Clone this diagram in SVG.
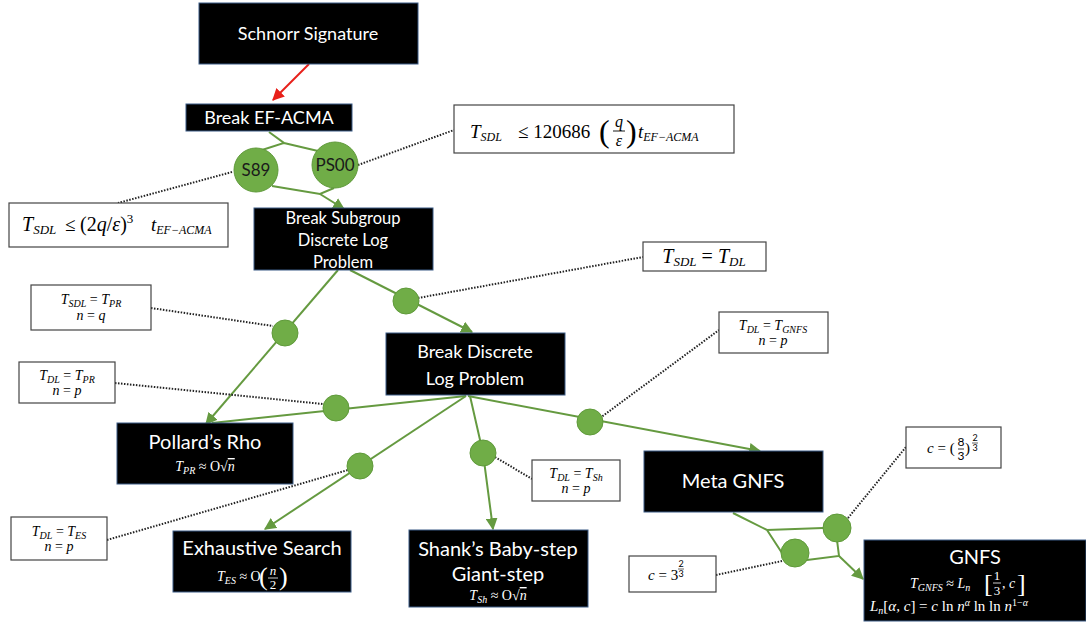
<svg xmlns="http://www.w3.org/2000/svg" width="1086" height="624" viewBox="0 0 1086 624">
<defs>
<style>
.bx{fill:#000;stroke:#3b5b85;stroke-width:1}
.wb{fill:#fff;stroke:#444;stroke-width:1.2}
.t{font-family:Lato,"Liberation Sans",sans-serif;fill:#fff;text-anchor:middle}
.m{font-family:"Liberation Serif",serif;font-style:italic;fill:#000}
.mw{font-family:"Liberation Serif",serif;font-style:italic;fill:#fff}
.u{font-style:normal}
.n{font-style:normal;font-family:Lato,"Liberation Sans",sans-serif}
.g{stroke:#659a40;stroke-width:2;fill:none}
.d{stroke:#222;stroke-width:2;stroke-dasharray:1.5 1.5;fill:none}
.c{fill:#70ad47;stroke:#5f9a3a;stroke-width:1}
.ct{font-family:Lato,"Liberation Sans",sans-serif;font-size:17px;fill:#1a1a1a;text-anchor:middle}
</style>
<marker id="ag" viewBox="0 0 10 10" refX="9" refY="5" markerWidth="6" markerHeight="6" orient="auto" markerUnits="strokeWidth"><path d="M0,0 L10,5 L0,10 z" fill="#659a40"/></marker>
<marker id="ar" viewBox="0 0 10 10" refX="9" refY="5" markerWidth="6" markerHeight="6" orient="auto" markerUnits="strokeWidth"><path d="M0,0 L10,5 L0,10 z" fill="#e8201a"/></marker>
</defs>

<g id="connectors">
<line x1="309" y1="64" x2="273" y2="100" stroke="#e8201a" stroke-width="2" marker-end="url(#ar)"/>
<path class="g" d="M269,132 L284,143 L262,150 M284,143 L318,151"/>
<path class="g" d="M272,186 L320,194 L334,188"/>
<path class="g" d="M320,194 L344,209" marker-end="url(#ag)"/>
<path class="g" d="M338,270 L206,424" marker-end="url(#ag)"/>
<path class="g" d="M350,270 L472,332" marker-end="url(#ag)"/>
<path class="g" d="M466,396 L212,423"/>
<path class="g" d="M466,396 L265,529" marker-end="url(#ag)"/>
<path class="g" d="M470,396 L483,453 L493,529" marker-end="url(#ag)"/>
<path class="g" d="M468,396 L760,451" marker-end="url(#ag)"/>
<path class="g" d="M733,513 L767,530 L823,528 M767,530 L782,553 M807,560 L839,556 L837,540"/>
<path class="g" d="M839,556 L863,579" marker-end="url(#ag)"/>
<path class="d" d="M232,172 L118,203"/>
<path class="d" d="M358,165 L454,130"/>
<path class="d" d="M418,298 L643,257"/>
<path class="d" d="M151,308 L273,326"/>
<path class="d" d="M115,383 L323,404"/>
<path class="d" d="M600,418 L719,330"/>
<path class="d" d="M495,457 L532,479"/>
<path class="d" d="M107,540 L348,470"/>
<path class="d" d="M848,518 L906,447"/>
<path class="d" d="M716,575 L782,561"/>
</g>

<g id="circles">
<circle class="c" cx="256" cy="170" r="22"/>
<text class="ct" x="256" y="176">S89</text>
<circle class="c" cx="335" cy="165" r="23"/>
<text class="ct" x="335" y="171">PS00</text>
<circle class="c" cx="285" cy="333" r="13"/>
<circle class="c" cx="406" cy="301" r="13"/>
<circle class="c" cx="336" cy="408" r="13"/>
<circle class="c" cx="360" cy="466" r="13"/>
<circle class="c" cx="483" cy="453" r="13"/>
<circle class="c" cx="590" cy="422" r="13"/>
<circle class="c" cx="837" cy="528" r="14"/>
<circle class="c" cx="795" cy="553" r="14"/>
</g>

<g id="schnorr">
<rect class="bx" x="199" y="3" width="219" height="61"/>
<text class="t" x="308" y="40" font-size="18">Schnorr Signature</text>
</g>
<g id="ef-acma">
<rect class="bx" x="186" y="104" width="166" height="27"/>
<text class="t" x="269" y="124" font-size="18">Break EF-ACMA</text>
</g>
<g id="subgroup">
<rect class="bx" x="254" y="208" width="179" height="62"/>
<text class="t" font-size="16.5"><tspan x="343" y="224">Break Subgroup</tspan><tspan x="343" y="246">Discrete Log</tspan><tspan x="343" y="268">Problem</tspan></text>
</g>
<g id="dl">
<rect class="bx" x="386" y="333" width="179" height="62"/>
<text class="t" font-size="18"><tspan x="475" y="358">Break Discrete</tspan><tspan x="475" y="385">Log Problem</tspan></text>
</g>
<g id="pollard">
<rect class="bx" x="117" y="423" width="176" height="61"/>
<text class="t" x="205" y="449" font-size="20">Pollard’s Rho</text>
<text class="mw" x="205" y="471" font-size="14" text-anchor="middle">T<tspan font-size="10" dy="3">PR</tspan><tspan class="u" dy="-3"> ≈ O√</tspan><tspan text-decoration="overline">n</tspan></text>
</g>
<g id="exhaustive">
<rect class="bx" x="173" y="531" width="178" height="61"/>
<text class="t" x="262" y="555" font-size="20">Exhaustive Search</text>
<text class="mw" x="217" y="581" font-size="14">T<tspan font-size="10" dy="3">ES</tspan><tspan class="u" dy="-3"> ≈ O</tspan></text>
<text class="mw" x="259" y="585" font-size="26" style="font-style:normal">(</text>
<text class="mw" x="273" y="575" font-size="13" text-anchor="middle">n</text>
<line x1="268" y1="578" x2="278" y2="578" stroke="#fff" stroke-width="0.8"/>
<text class="mw" x="273" y="589" font-size="13" text-anchor="middle" style="font-style:normal">2</text>
<text class="mw" x="279" y="585" font-size="26" style="font-style:normal">)</text>
</g>
<g id="shanks">
<rect class="bx" x="409" y="530" width="179" height="77"/>
<text class="t" font-size="20"><tspan x="498" y="556">Shank’s Baby-step</tspan><tspan x="498" y="581">Giant-step</tspan></text>
<text class="mw" x="498" y="600" font-size="14" text-anchor="middle">T<tspan font-size="10" dy="3">Sh</tspan><tspan class="u" dy="-3"> ≈ O√</tspan><tspan text-decoration="overline">n</tspan></text>
</g>
<g id="metagnfs">
<rect class="bx" x="644" y="451" width="179" height="61"/>
<text class="t" x="733" y="488" font-size="20">Meta GNFS</text>
</g>
<g id="gnfs">
<rect class="bx" x="864" y="540" width="222" height="81"/>
<text class="t" x="975" y="564" font-size="20">GNFS</text>
<text class="mw" x="910" y="588" font-size="14">T<tspan font-size="10" dy="3">GNFS</tspan><tspan class="u" dy="-3"> ≈ </tspan>L<tspan font-size="10" dy="3">n</tspan></text>
<text class="mw" x="984" y="592" font-size="26" style="font-style:normal">[</text>
<text class="mw" x="997" y="580" font-size="13" text-anchor="middle" style="font-style:normal">1</text>
<line x1="993" y1="583" x2="1001" y2="583" stroke="#fff" stroke-width="0.8"/>
<text class="mw" x="997" y="595" font-size="13" text-anchor="middle" style="font-style:normal">3</text>
<text class="mw" x="1002" y="588" font-size="14"><tspan class="u">, </tspan>c</text>
<text class="mw" x="1017" y="592" font-size="26" style="font-style:normal">]</text>
<text class="mw" x="870" y="611" font-size="15">L<tspan font-size="10" dy="3">n</tspan><tspan class="u" dy="-3">[</tspan>α, c<tspan class="u">] = </tspan>c <tspan class="u">ln </tspan>n<tspan font-size="10" dy="-5">α</tspan><tspan class="u" dy="5"> ln ln </tspan>n<tspan class="u" font-size="10" dy="-5">1−</tspan><tspan font-size="10">α</tspan></text>
</g>

<g id="eq-s89">
<rect class="wb" x="9" y="203" width="219" height="44"/>
<text class="m" x="22" y="231" font-size="20">T<tspan font-size="13" dy="3">SDL</tspan></text>
<text class="m u" x="65" y="231" font-size="19" style="font-style:normal">≤</text>
<text class="m" x="80" y="231" font-size="20"><tspan class="u">(2</tspan>q<tspan class="u">/</tspan>ε<tspan class="u">)</tspan><tspan class="u" font-size="13" dy="-8">3</tspan></text>
<text class="m" x="151" y="231" font-size="19">t<tspan font-size="12" dy="3">EF−ACMA</tspan></text>
</g>
<g id="eq-ps00">
<rect class="wb" x="454" y="105" width="280" height="48"/>
<text class="m" x="470" y="138" font-size="19">T<tspan font-size="12" dy="3">SDL</tspan></text>
<text class="m" x="518" y="138" font-size="19" style="font-style:normal">≤ 120686</text>
<text class="m" x="599" y="142" font-size="32" style="font-style:normal">(</text>
<text class="m" x="619" y="127" font-size="16" text-anchor="middle">q</text>
<line x1="613" y1="131" x2="625" y2="131" stroke="#000" stroke-width="0.9"/>
<text class="m" x="619" y="146" font-size="16" text-anchor="middle">ε</text>
<text class="m" x="626" y="142" font-size="32" style="font-style:normal">)</text>
<text class="m" x="638" y="138" font-size="19">t<tspan font-size="12" dy="3">EF−ACMA</tspan></text>
</g>
<g id="eq-sdl-dl">
<rect class="wb" x="643" y="242" width="123" height="29"/>
<text class="m" x="704" y="263" font-size="20" text-anchor="middle">T<tspan font-size="13" dy="3">SDL</tspan><tspan class="u" dy="-3"> = </tspan>T<tspan font-size="13" dy="3">DL</tspan></text>
</g>
<g id="eq-sdl-pr">
<rect class="wb" x="31" y="285" width="120" height="45"/>
<text class="m" x="91" y="304" font-size="14" text-anchor="middle">T<tspan font-size="10" dy="3">SDL</tspan><tspan class="u" dy="-3"> = </tspan>T<tspan font-size="10" dy="3">PR</tspan></text>
<text class="m" x="91" y="320" font-size="14" text-anchor="middle">n<tspan class="u"> = </tspan>q</text>
</g>
<g id="eq-dl-pr">
<rect class="wb" x="19" y="362" width="96" height="41"/>
<text class="m" x="67" y="380" font-size="14" text-anchor="middle">T<tspan font-size="10" dy="3">DL</tspan><tspan class="u" dy="-3"> = </tspan>T<tspan font-size="10" dy="3">PR</tspan></text>
<text class="m" x="67" y="395" font-size="14" text-anchor="middle">n<tspan class="u"> = </tspan>p</text>
</g>
<g id="eq-dl-gnfs">
<rect class="wb" x="719" y="312" width="109" height="41"/>
<text class="m" x="773" y="330" font-size="14" text-anchor="middle">T<tspan font-size="10" dy="3">DL</tspan><tspan class="u" dy="-3"> = </tspan>T<tspan font-size="10" dy="3">GNFS</tspan></text>
<text class="m" x="773" y="345" font-size="14" text-anchor="middle">n<tspan class="u"> = </tspan>p</text>
</g>
<g id="eq-dl-sh">
<rect class="wb" x="532" y="460" width="88" height="41"/>
<text class="m" x="576" y="478" font-size="14" text-anchor="middle">T<tspan font-size="10" dy="3">DL</tspan><tspan class="u" dy="-3"> = </tspan>T<tspan font-size="10" dy="3">Sh</tspan></text>
<text class="m" x="576" y="493" font-size="14" text-anchor="middle">n<tspan class="u"> = </tspan>p</text>
</g>
<g id="eq-dl-es">
<rect class="wb" x="11" y="517" width="96" height="43"/>
<text class="m" x="59" y="536" font-size="14" text-anchor="middle">T<tspan font-size="10" dy="3">DL</tspan><tspan class="u" dy="-3"> = </tspan>T<tspan font-size="10" dy="3">ES</tspan></text>
<text class="m" x="59" y="551" font-size="14" text-anchor="middle">n<tspan class="u"> = </tspan>p</text>
</g>
<g id="eq-c83">
<rect class="wb" x="906" y="427" width="95" height="41"/>
<text class="m" x="927" y="453" font-size="15">c<tspan class="u"> = (</tspan></text>
<text class="m n" x="961" y="446" font-size="12" text-anchor="middle">8</text>
<line x1="958" y1="449" x2="964" y2="449" stroke="#000" stroke-width="0.8"/>
<text class="m n" x="961" y="460" font-size="12" text-anchor="middle">3</text>
<text class="m u" x="965" y="453" font-size="15">)</text>
<text class="m n" x="975" y="441" font-size="9" text-anchor="middle">2</text>
<line x1="972" y1="443" x2="978" y2="443" stroke="#000" stroke-width="0.6"/>
<text class="m n" x="975" y="451" font-size="9" text-anchor="middle">3</text>
</g>
<g id="eq-c3">
<rect class="wb" x="629" y="556" width="87" height="36"/>
<text class="m" x="648" y="580" font-size="15">c<tspan class="u"> = 3</tspan></text>
<text class="m n" x="681" y="567" font-size="9" text-anchor="middle">2</text>
<line x1="678" y1="569" x2="684" y2="569" stroke="#000" stroke-width="0.6"/>
<text class="m n" x="681" y="577" font-size="9" text-anchor="middle">3</text>
</g>
</svg>
